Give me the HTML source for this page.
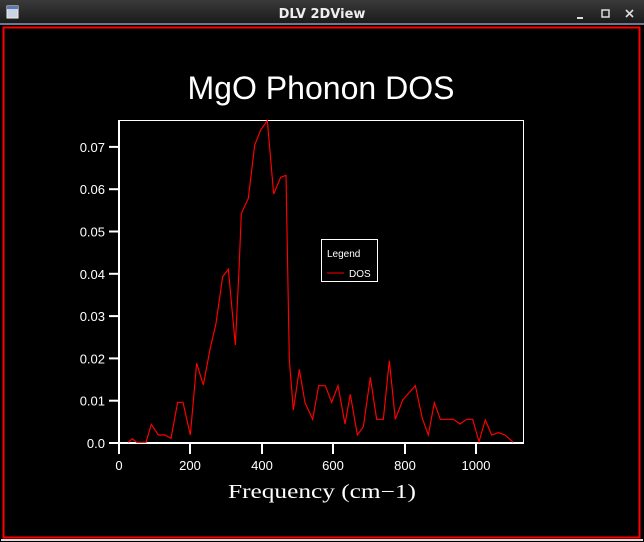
<!DOCTYPE html>
<html><head><meta charset="utf-8"><style>
html,body{margin:0;padding:0;background:#000;width:644px;height:542px;overflow:hidden}
</style></head><body>
<svg width="644" height="542" xmlns="http://www.w3.org/2000/svg" style="display:block">
<defs><linearGradient id="tb" x1="0" y1="0" x2="0" y2="1"><stop offset="0" stop-color="#3a3a3a"/><stop offset="1" stop-color="#1a1a1a"/></linearGradient></defs>
<rect x="0" y="0" width="644" height="542" fill="#000"/>
<rect x="0" y="0" width="644" height="24" fill="url(#tb)"/>
<rect x="0" y="23" width="644" height="2" fill="#6a7a90"/>
<rect x="7" y="6" width="11" height="12" fill="#c8d4e4" stroke="#eee" stroke-width="1"/>
<rect x="7" y="6" width="11" height="3" fill="#5a7ab0"/>
<text x="322" y="18" text-anchor="middle" font-family="DejaVu Sans, sans-serif" font-weight="bold" font-size="13" fill="#eee">DLV 2DView</text>
<rect x="577" y="17" width="6" height="2" fill="#ddd"/>
<rect x="602" y="10" width="7" height="7" fill="none" stroke="#ddd" stroke-width="1.5"/>
<path d="M626 10 L633 17 M633 10 L626 17" stroke="#ddd" stroke-width="1.6"/>
<rect x="3.5" y="27.5" width="636" height="510" fill="none" stroke="#f00" stroke-width="2"/>
<rect x="1" y="539" width="642" height="2" fill="#ddd"/>
<text x="321" y="99" text-anchor="middle" font-family="Liberation Sans, sans-serif" font-size="32" fill="#fff" textLength="267" lengthAdjust="spacingAndGlyphs">MgO Phonon DOS</text>
<rect x="119.5" y="120.5" width="404" height="322" fill="none" stroke="#fff" stroke-width="1"/>
<line x1="119" y1="443" x2="524" y2="443" stroke="#fff" stroke-width="2"/>
<line x1="119" y1="120" x2="119" y2="443" stroke="#fff" stroke-width="2"/>
<g stroke="#fff" stroke-width="2">
<line x1="119" y1="443" x2="119" y2="454"/><line x1="190" y1="443" x2="190" y2="454"/><line x1="262" y1="443" x2="262" y2="454"/><line x1="333" y1="443" x2="333" y2="454"/><line x1="405" y1="443" x2="405" y2="454"/><line x1="476" y1="443" x2="476" y2="454"/>
<line x1="109" y1="443" x2="119" y2="443"/><line x1="109" y1="400.7" x2="119" y2="400.7"/><line x1="109" y1="358.4" x2="119" y2="358.4"/><line x1="109" y1="316.1" x2="119" y2="316.1"/><line x1="109" y1="273.8" x2="119" y2="273.8"/><line x1="109" y1="231.5" x2="119" y2="231.5"/><line x1="109" y1="189.2" x2="119" y2="189.2"/><line x1="109" y1="146.9" x2="119" y2="146.9"/>
</g>
<g font-family="Liberation Sans, sans-serif" font-size="13" fill="#fff" text-anchor="middle">
<text x="119" y="470">0</text><text x="190" y="470">200</text><text x="262" y="470">400</text><text x="333" y="470">600</text><text x="405" y="470">800</text><text x="476" y="470">1000</text>
</g>
<g font-family="Liberation Sans, sans-serif" font-size="13" fill="#fff" text-anchor="end">
<text x="105" y="448">0.0</text><text x="105" y="405.7">0.01</text><text x="105" y="363.4">0.02</text><text x="105" y="321.1">0.03</text><text x="105" y="278.8">0.04</text><text x="105" y="236.5">0.05</text><text x="105" y="194.2">0.06</text><text x="105" y="151.9">0.07</text>
</g>
<text x="322" y="498" text-anchor="middle" font-family="Liberation Serif, serif" font-size="20" fill="#fff" textLength="188" lengthAdjust="spacingAndGlyphs">Frequency (cm−1)</text>
<g transform="translate(110,110) scale(0.33333)">
<polyline fill="none" stroke="#f00" stroke-width="3.5" points="55,997 67,986 80,997 108,997 124,943 145,975 165,975 183,985 203,877 219,877 241,975 260,760 280,825 300,718 318,640 338,500 355,478 376,705 387,480 394,310 415,265 434,105 452,60 472,32 491,252 512,202 528,196 538,750 550,900 568,778 585,878 608,928 626,827 646,827 665,877 684,827 705,942 721,853 742,975 760,950 781,802 800,928 820,928 838,752 856,928 878,870 916,827 937,925 955,975 973,878 991,928 1030,928 1050,942 1070,928 1088,928 1107,995 1126,930 1145,975 1165,968 1185,975 1210,997"/>
</g>
<rect x="321.5" y="239.5" width="56" height="42" fill="#000" stroke="#fff" stroke-width="1"/>
<text x="327" y="257" font-family="Liberation Sans, sans-serif" font-size="10" fill="#fff">Legend</text>
<line x1="327" y1="273" x2="344" y2="273" stroke="#f00" stroke-width="1"/>
<text x="349" y="277" font-family="Liberation Sans, sans-serif" font-size="10" fill="#fff">DOS</text>
</svg>
</body></html>
